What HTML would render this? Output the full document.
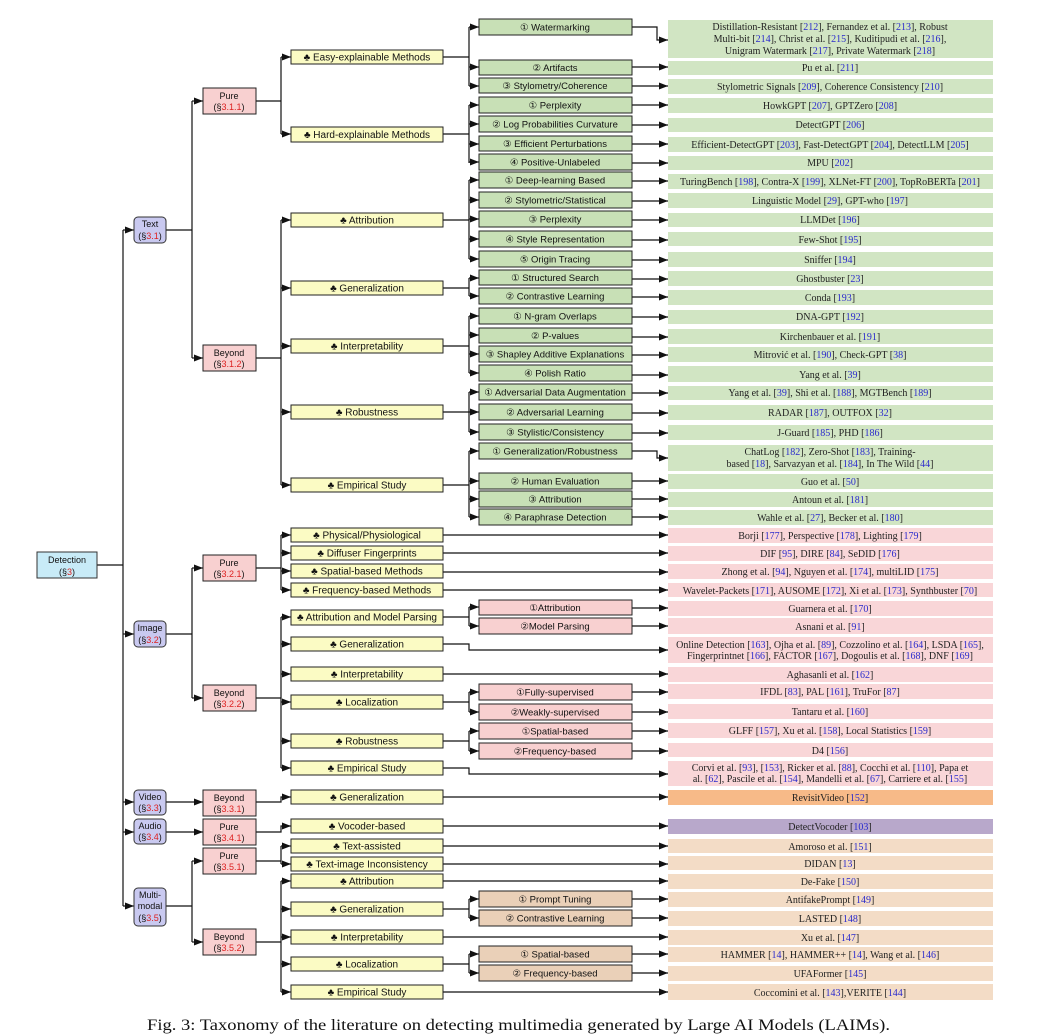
<!DOCTYPE html>
<html><head><meta charset="utf-8"><style>
html,body{margin:0;padding:0;background:#fff;width:1043px;height:1036px;overflow:hidden}
svg{display:block}
.s{font-family:"Liberation Sans",sans-serif;font-size:9px;fill:#111;text-anchor:middle}
.s3{font-size:10px}
.s4{font-size:9.5px}
.r{font-family:"Liberation Serif",serif;font-size:10px;fill:#222;text-anchor:middle}
.b{fill:#2a2acc}
.red{fill:#d22}
.ln{stroke:#111;stroke-width:1.2;fill:none}
.yb{fill:#fbfbc4;stroke:#222;stroke-width:1}
.gb{fill:#c8e0b6;stroke:#222;stroke-width:1}
.pb{fill:#f8d0d0;stroke:#222;stroke-width:1}
.tb{fill:#ead0b8;stroke:#222;stroke-width:1}
.lv{fill:#c9c9f0;stroke:#333;stroke-width:1}
.gr{fill:#d1e5c3}
.pr{fill:#f9d6d8}
.tr{fill:#f3dcc6}
</style></head><body>
<svg width="1043" height="1036" viewBox="0 0 1043 1036" xmlns="http://www.w3.org/2000/svg">
<defs><marker id="a" markerWidth="9" markerHeight="7" refX="9" refY="3.5" orient="auto" markerUnits="userSpaceOnUse"><path d="M0,0 L9,3.5 L0,7z" fill="#111"/></marker></defs>

<g>
<rect class="gr" x="668" y="20" width="325" height="38"/>
<rect class="gr" x="668" y="61" width="325" height="14"/>
<rect class="gr" x="668" y="79" width="325" height="15"/>
<rect class="gr" x="668" y="98" width="325" height="15"/>
<rect class="gr" x="668" y="118" width="325" height="14"/>
<rect class="gr" x="668" y="137" width="325" height="15"/>
<rect class="gr" x="668" y="156" width="325" height="14"/>
<rect class="gr" x="668" y="174" width="325" height="15"/>
<rect class="gr" x="668" y="193" width="325" height="15"/>
<rect class="gr" x="668" y="213" width="325" height="14"/>
<rect class="gr" x="668" y="232" width="325" height="14"/>
<rect class="gr" x="668" y="252" width="325" height="15"/>
<rect class="gr" x="668" y="271" width="325" height="15"/>
<rect class="gr" x="668" y="290" width="325" height="15"/>
<rect class="gr" x="668" y="310" width="325" height="14"/>
<rect class="gr" x="668" y="329" width="325" height="15"/>
<rect class="gr" x="668" y="347" width="325" height="15"/>
<rect class="gr" x="668" y="366" width="325" height="16"/>
<rect class="gr" x="668" y="386" width="325" height="14"/>
<rect class="gr" x="668" y="405" width="325" height="15"/>
<rect class="gr" x="668" y="425" width="325" height="15"/>
<rect class="gr" x="668" y="445" width="325" height="26"/>
<rect class="gr" x="668" y="474" width="325" height="15"/>
<rect class="gr" x="668" y="492" width="325" height="15"/>
<rect class="gr" x="668" y="510" width="325" height="15"/>

<rect class="pr" x="668" y="528" width="325" height="15"/>
<rect class="pr" x="668" y="546" width="325" height="15"/>
<rect class="pr" x="668" y="564" width="325" height="15"/>
<rect class="pr" x="668" y="583" width="325" height="14"/>
<rect class="pr" x="668" y="601" width="325" height="15"/>
<rect class="pr" x="668" y="618" width="325" height="16"/>
<rect class="pr" x="668" y="637" width="325" height="26"/>
<rect class="pr" x="668" y="667" width="325" height="15"/>
<rect class="pr" x="668" y="684" width="325" height="15"/>
<rect class="pr" x="668" y="704" width="325" height="15"/>
<rect class="pr" x="668" y="723" width="325" height="15"/>
<rect class="pr" x="668" y="743" width="325" height="14"/>
<rect class="pr" x="668" y="761" width="325" height="25"/>
<rect fill="#f7ba88" x="668" y="790" width="325" height="15"/>
<rect fill="#b8a8cb" x="668" y="819" width="325" height="15"/>
<rect class="tr" x="668" y="839" width="325" height="14"/>
<rect class="tr" x="668" y="856" width="325" height="14"/>
<rect class="tr" x="668" y="874" width="325" height="15"/>
<rect class="tr" x="668" y="892" width="325" height="15"/>
<rect class="tr" x="668" y="911" width="325" height="15"/>
<rect class="tr" x="668" y="930" width="325" height="15"/>
<rect class="tr" x="668" y="947" width="325" height="15"/>
<rect class="tr" x="668" y="966" width="325" height="15"/>
<rect class="tr" x="668" y="984" width="325" height="16"/>
</g>

<g class="r">
<text x="830" y="30">Distillation-Resistant [<tspan class="b">212</tspan>], Fernandez et al. [<tspan class="b">213</tspan>], Robust</text>
<text x="830" y="42">Multi-bit [<tspan class="b">214</tspan>], Christ et al. [<tspan class="b">215</tspan>], Kuditipudi et al. [<tspan class="b">216</tspan>],</text>
<text x="830" y="54">Unigram Watermark [<tspan class="b">217</tspan>], Private Watermark [<tspan class="b">218</tspan>]</text>
<text x="830" y="71">Pu et al. [<tspan class="b">211</tspan>]</text>
<text x="830" y="90">Stylometric Signals [<tspan class="b">209</tspan>], Coherence Consistency [<tspan class="b">210</tspan>]</text>
<text x="830" y="109">HowkGPT [<tspan class="b">207</tspan>], GPTZero [<tspan class="b">208</tspan>]</text>
<text x="830" y="128">DetectGPT [<tspan class="b">206</tspan>]</text>
<text x="830" y="148">Efficient-DetectGPT [<tspan class="b">203</tspan>], Fast-DetectGPT [<tspan class="b">204</tspan>], DetectLLM [<tspan class="b">205</tspan>]</text>
<text x="830" y="166">MPU [<tspan class="b">202</tspan>]</text>
<text x="830" y="185">TuringBench [<tspan class="b">198</tspan>], Contra-X [<tspan class="b">199</tspan>], XLNet-FT [<tspan class="b">200</tspan>], TopRoBERTa [<tspan class="b">201</tspan>]</text>
<text x="830" y="204">Linguistic Model [<tspan class="b">29</tspan>], GPT-who [<tspan class="b">197</tspan>]</text>
<text x="830" y="223">LLMDet [<tspan class="b">196</tspan>]</text>
<text x="830" y="243">Few-Shot [<tspan class="b">195</tspan>]</text>
<text x="830" y="263">Sniffer [<tspan class="b">194</tspan>]</text>
<text x="830" y="282">Ghostbuster [<tspan class="b">23</tspan>]</text>
<text x="830" y="301">Conda [<tspan class="b">193</tspan>]</text>
<text x="830" y="320">DNA-GPT [<tspan class="b">192</tspan>]</text>
<text x="830" y="340">Kirchenbauer et al. [<tspan class="b">191</tspan>]</text>
<text x="830" y="358">Mitrović et al. [<tspan class="b">190</tspan>], Check-GPT [<tspan class="b">38</tspan>]</text>
<text x="830" y="378">Yang et al. [<tspan class="b">39</tspan>]</text>
<text x="830" y="396">Yang et al. [<tspan class="b">39</tspan>], Shi et al. [<tspan class="b">188</tspan>], MGTBench [<tspan class="b">189</tspan>]</text>
<text x="830" y="416">RADAR [<tspan class="b">187</tspan>], OUTFOX [<tspan class="b">32</tspan>]</text>
<text x="830" y="436">J-Guard [<tspan class="b">185</tspan>], PHD [<tspan class="b">186</tspan>]</text>
<text x="830" y="455">ChatLog [<tspan class="b">182</tspan>], Zero-Shot [<tspan class="b">183</tspan>], Training-</text>
<text x="830" y="467">based [<tspan class="b">18</tspan>], Sarvazyan et al. [<tspan class="b">184</tspan>], In The Wild [<tspan class="b">44</tspan>]</text>
<text x="830" y="485">Guo et al. [<tspan class="b">50</tspan>]</text>
<text x="830" y="503">Antoun et al. [<tspan class="b">181</tspan>]</text>
<text x="830" y="521">Wahle et al. [<tspan class="b">27</tspan>], Becker et al. [<tspan class="b">180</tspan>]</text>

<text x="830" y="539">Borji [<tspan class="b">177</tspan>], Perspective [<tspan class="b">178</tspan>], Lighting [<tspan class="b">179</tspan>]</text>
<text x="830" y="557">DIF [<tspan class="b">95</tspan>], DIRE [<tspan class="b">84</tspan>], SeDID [<tspan class="b">176</tspan>]</text>
<text x="830" y="575">Zhong et al. [<tspan class="b">94</tspan>], Nguyen et al. [<tspan class="b">174</tspan>], multiLID [<tspan class="b">175</tspan>]</text>
<text x="830" y="594">Wavelet-Packets [<tspan class="b">171</tspan>], AUSOME [<tspan class="b">172</tspan>], Xi et al. [<tspan class="b">173</tspan>], Synthbuster [<tspan class="b">70</tspan>]</text>
<text x="830" y="612">Guarnera et al. [<tspan class="b">170</tspan>]</text>
<text x="830" y="630">Asnani et al. [<tspan class="b">91</tspan>]</text>
<text x="830" y="648">Online Detection [<tspan class="b">163</tspan>], Ojha et al. [<tspan class="b">89</tspan>], Cozzolino et al. [<tspan class="b">164</tspan>], LSDA [<tspan class="b">165</tspan>],</text>
<text x="830" y="659">Fingerprintnet [<tspan class="b">166</tspan>], FACTOR [<tspan class="b">167</tspan>], Dogoulis et al. [<tspan class="b">168</tspan>], DNF [<tspan class="b">169</tspan>]</text>
<text x="830" y="678">Aghasanli et al. [<tspan class="b">162</tspan>]</text>
<text x="830" y="695">IFDL [<tspan class="b">83</tspan>], PAL [<tspan class="b">161</tspan>], TruFor [<tspan class="b">87</tspan>]</text>
<text x="830" y="715">Tantaru et al. [<tspan class="b">160</tspan>]</text>
<text x="830" y="734">GLFF [<tspan class="b">157</tspan>], Xu et al. [<tspan class="b">158</tspan>], Local Statistics [<tspan class="b">159</tspan>]</text>
<text x="830" y="754">D4 [<tspan class="b">156</tspan>]</text>
<text x="830" y="771">Corvi et al. [<tspan class="b">93</tspan>], [<tspan class="b">153</tspan>], Ricker et al. [<tspan class="b">88</tspan>], Cocchi et al. [<tspan class="b">110</tspan>], Papa et</text>
<text x="830" y="782">al. [<tspan class="b">62</tspan>], Pascile et al. [<tspan class="b">154</tspan>], Mandelli et al. [<tspan class="b">67</tspan>], Carriere et al. [<tspan class="b">155</tspan>]</text>
<text x="830" y="801">RevisitVideo [<tspan class="b">152</tspan>]</text>
<text x="830" y="830">DetectVocoder [<tspan class="b">103</tspan>]</text>
<text x="830" y="850">Amoroso et al. [<tspan class="b">151</tspan>]</text>
<text x="830" y="867">DIDAN [<tspan class="b">13</tspan>]</text>
<text x="830" y="885">De-Fake [<tspan class="b">150</tspan>]</text>
<text x="830" y="903">AntifakePrompt [<tspan class="b">149</tspan>]</text>
<text x="830" y="922">LASTED [<tspan class="b">148</tspan>]</text>
<text x="830" y="941">Xu et al. [<tspan class="b">147</tspan>]</text>
<text x="830" y="958">HAMMER [<tspan class="b">14</tspan>], HAMMER++ [<tspan class="b">14</tspan>], Wang et al. [<tspan class="b">146</tspan>]</text>
<text x="830" y="977">UFAFormer [<tspan class="b">145</tspan>]</text>
<text x="830" y="996">Coccomini et al. [<tspan class="b">143</tspan>],VERITE [<tspan class="b">144</tspan>]</text>
</g>

<g class="ln">
<path d="M97,565 H123 M123,230 V906"/>
<path d="M123,230 H134" marker-end="url(#a)"/>
<path d="M123,634 H134" marker-end="url(#a)"/>
<path d="M123,802 H134" marker-end="url(#a)"/>
<path d="M123,832 H134" marker-end="url(#a)"/>
<path d="M123,906 H134" marker-end="url(#a)"/>
<path d="M166,230 H192 M192,101 V358" />
<path d="M192,101 H203" marker-end="url(#a)"/><path d="M192,358 H203" marker-end="url(#a)"/>
<path d="M166,634 H192 M192,568 V698"/>
<path d="M192,568 H203" marker-end="url(#a)"/><path d="M192,698 H203" marker-end="url(#a)"/>
<path d="M166,802 H203" marker-end="url(#a)"/>
<path d="M166,832 H203" marker-end="url(#a)"/>
<path d="M166,906 H192 M192,861 V942"/>
<path d="M192,861 H203" marker-end="url(#a)"/><path d="M192,942 H203" marker-end="url(#a)"/>
<path d="M256,101 H281 M281,57 V134"/>
<path d="M281,57 H291" marker-end="url(#a)"/><path d="M281,134 H291" marker-end="url(#a)"/>
<path d="M256,358 H281 M281,220 V485"/>
<path d="M281,220 H291" marker-end="url(#a)"/><path d="M281,288 H291" marker-end="url(#a)"/><path d="M281,346 H291" marker-end="url(#a)"/><path d="M281,412 H291" marker-end="url(#a)"/><path d="M281,485 H291" marker-end="url(#a)"/>
<path d="M256,568 H281 M281,535 V590"/>
<path d="M281,535 H291" marker-end="url(#a)"/><path d="M281,553 H291" marker-end="url(#a)"/><path d="M281,571 H291" marker-end="url(#a)"/><path d="M281,590 H291" marker-end="url(#a)"/>
<path d="M256,698 H281 M281,617 V768"/>
<path d="M281,617 H291" marker-end="url(#a)"/><path d="M281,644 H291" marker-end="url(#a)"/><path d="M281,674 H291" marker-end="url(#a)"/><path d="M281,702 H291" marker-end="url(#a)"/><path d="M281,741 H291" marker-end="url(#a)"/><path d="M281,768 H291" marker-end="url(#a)"/>
<path d="M256,802 H281 V797 H291" marker-end="url(#a)"/>
<path d="M256,832 H281 V826 H291" marker-end="url(#a)"/>
<path d="M256,861 H281 M281,846 V864"/>
<path d="M281,846 H291" marker-end="url(#a)"/><path d="M281,864 H291" marker-end="url(#a)"/>
<path d="M256,942 H281 M281,881 V992"/>
<path d="M281,881 H291" marker-end="url(#a)"/><path d="M281,909 H291" marker-end="url(#a)"/><path d="M281,937 H291" marker-end="url(#a)"/><path d="M281,964 H291" marker-end="url(#a)"/><path d="M281,992 H291" marker-end="url(#a)"/>
<path d="M443,57 H469 M469,27 V86"/>
<path d="M469,27 H479" marker-end="url(#a)"/><path d="M469,67 H479" marker-end="url(#a)"/><path d="M469,86 H479" marker-end="url(#a)"/>
<path d="M443,134 H469 M469,105 V163"/>
<path d="M469,105 H479" marker-end="url(#a)"/><path d="M469,124 H479" marker-end="url(#a)"/><path d="M469,144 H479" marker-end="url(#a)"/><path d="M469,162 H479" marker-end="url(#a)"/>
<path d="M443,220 H469 M469,180 V259"/>
<path d="M469,180 H479" marker-end="url(#a)"/><path d="M469,200 H479" marker-end="url(#a)"/><path d="M469,219 H479" marker-end="url(#a)"/><path d="M469,239 H479" marker-end="url(#a)"/><path d="M469,259 H479" marker-end="url(#a)"/>
<path d="M443,288 H469 M469,278 V296"/>
<path d="M469,278 H479" marker-end="url(#a)"/><path d="M469,296 H479" marker-end="url(#a)"/>
<path d="M443,346 H469 M469,316 V373"/>
<path d="M469,316 H479" marker-end="url(#a)"/><path d="M469,335 H479" marker-end="url(#a)"/><path d="M469,354 H479" marker-end="url(#a)"/><path d="M469,373 H479" marker-end="url(#a)"/>
<path d="M443,412 H469 M469,392 V432"/>
<path d="M469,392 H479" marker-end="url(#a)"/><path d="M469,412 H479" marker-end="url(#a)"/><path d="M469,432 H479" marker-end="url(#a)"/>
<path d="M443,485 H469 M469,451 V517"/>
<path d="M469,451 H479" marker-end="url(#a)"/><path d="M469,481 H479" marker-end="url(#a)"/><path d="M469,499 H479" marker-end="url(#a)"/><path d="M469,517 H479" marker-end="url(#a)"/>
<path d="M443,617 H469 M469,607 V626"/>
<path d="M469,607 H479" marker-end="url(#a)"/><path d="M469,626 H479" marker-end="url(#a)"/>
<path d="M443,702 H469 M469,692 V712"/>
<path d="M469,692 H479" marker-end="url(#a)"/><path d="M469,712 H479" marker-end="url(#a)"/>
<path d="M443,741 H469 M469,731 V751"/>
<path d="M469,731 H479" marker-end="url(#a)"/><path d="M469,751 H479" marker-end="url(#a)"/>
<path d="M443,909 H469 M469,899 V918"/>
<path d="M469,899 H479" marker-end="url(#a)"/><path d="M469,918 H479" marker-end="url(#a)"/>
<path d="M443,964 H469 M469,954 V973"/>
<path d="M469,954 H479" marker-end="url(#a)"/><path d="M469,973 H479" marker-end="url(#a)"/>
<path d="M632,27 H657 V40 H668" marker-end="url(#a)"/>
<path d="M632,67 H668" marker-end="url(#a)"/><path d="M632,86 H668" marker-end="url(#a)"/>
<path d="M632,105 H668" marker-end="url(#a)"/><path d="M632,125 H668" marker-end="url(#a)"/><path d="M632,144 H668" marker-end="url(#a)"/><path d="M632,163 H668" marker-end="url(#a)"/>
<path d="M632,181 H668" marker-end="url(#a)"/><path d="M632,201 H668" marker-end="url(#a)"/><path d="M632,220 H668" marker-end="url(#a)"/><path d="M632,240 H668" marker-end="url(#a)"/><path d="M632,260 H668" marker-end="url(#a)"/>
<path d="M632,279 H668" marker-end="url(#a)"/><path d="M632,297 H668" marker-end="url(#a)"/>
<path d="M632,317 H668" marker-end="url(#a)"/><path d="M632,337 H668" marker-end="url(#a)"/><path d="M632,355 H668" marker-end="url(#a)"/><path d="M632,375 H668" marker-end="url(#a)"/>
<path d="M632,393 H668" marker-end="url(#a)"/><path d="M632,413 H668" marker-end="url(#a)"/><path d="M632,433 H668" marker-end="url(#a)"/>
<path d="M632,451 H657 V458 H668" marker-end="url(#a)"/>
<path d="M632,481 H668" marker-end="url(#a)"/><path d="M632,499 H668" marker-end="url(#a)"/><path d="M632,517 H668" marker-end="url(#a)"/>
<path d="M443,535 H668" marker-end="url(#a)"/><path d="M443,553 H668" marker-end="url(#a)"/><path d="M443,572 H668" marker-end="url(#a)"/><path d="M443,590 H668" marker-end="url(#a)"/>
<path d="M632,608 H668" marker-end="url(#a)"/><path d="M632,626 H668" marker-end="url(#a)"/>
<path d="M443,644 H469 V650 H668" marker-end="url(#a)"/>
<path d="M443,674 H668" marker-end="url(#a)"/>
<path d="M632,692 H668" marker-end="url(#a)"/><path d="M632,712 H668" marker-end="url(#a)"/>
<path d="M632,731 H668" marker-end="url(#a)"/><path d="M632,751 H668" marker-end="url(#a)"/>
<path d="M443,768 H469 V774 H668" marker-end="url(#a)"/>
<path d="M443,797 H668" marker-end="url(#a)"/>
<path d="M443,826 H668" marker-end="url(#a)"/>
<path d="M443,846 H668" marker-end="url(#a)"/><path d="M443,864 H668" marker-end="url(#a)"/><path d="M443,881 H668" marker-end="url(#a)"/>
<path d="M632,899 H668" marker-end="url(#a)"/><path d="M632,918 H668" marker-end="url(#a)"/>
<path d="M443,937 H668" marker-end="url(#a)"/>
<path d="M632,954 H668" marker-end="url(#a)"/><path d="M632,973 H668" marker-end="url(#a)"/>
<path d="M443,992 H668" marker-end="url(#a)"/>
</g>

<rect x="37" y="552" width="60" height="26" fill="#c8ebf7" stroke="#333"/>
<text class="s" x="67" y="563">Detection</text><text class="s" x="67" y="575">(§<tspan class="red">3</tspan>)</text>
<rect class="lv" x="134" y="217" width="32" height="26" rx="4"/>
<text class="s" x="150" y="227">Text</text><text class="s" x="150" y="239">(§<tspan class="red">3.1</tspan>)</text>
<rect class="lv" x="134" y="621" width="32" height="26" rx="4"/>
<text class="s" x="150" y="631">Image</text><text class="s" x="150" y="643">(§<tspan class="red">3.2</tspan>)</text>
<rect class="lv" x="134" y="790" width="32" height="25" rx="4"/>
<text class="s" x="150" y="800">Video</text><text class="s" x="150" y="811">(§<tspan class="red">3.3</tspan>)</text>
<rect class="lv" x="134" y="819" width="32" height="25" rx="4"/>
<text class="s" x="150" y="829">Audio</text><text class="s" x="150" y="840">(§<tspan class="red">3.4</tspan>)</text>
<rect class="lv" x="134" y="888" width="32" height="38" rx="4"/>
<text class="s" x="150" y="898">Multi-</text><text class="s" x="150" y="909">modal</text><text class="s" x="150" y="921">(§<tspan class="red">3.5</tspan>)</text>

<g class="s">
<rect class="pb" x="203" y="88" width="53" height="26"/><text x="229" y="99">Pure</text><text x="229" y="110">(§<tspan class="red">3.1.1</tspan>)</text>
<rect class="pb" x="203" y="345" width="53" height="26"/><text x="229" y="356">Beyond</text><text x="229" y="367">(§<tspan class="red">3.1.2</tspan>)</text>
<rect class="pb" x="203" y="555" width="53" height="26"/><text x="229" y="566">Pure</text><text x="229" y="577">(§<tspan class="red">3.2.1</tspan>)</text>
<rect class="pb" x="203" y="685" width="53" height="26"/><text x="229" y="696">Beyond</text><text x="229" y="707">(§<tspan class="red">3.2.2</tspan>)</text>
<rect class="pb" x="203" y="790" width="53" height="26"/><text x="229" y="801">Beyond</text><text x="229" y="812">(§<tspan class="red">3.3.1</tspan>)</text>
<rect class="pb" x="203" y="819" width="53" height="26"/><text x="229" y="830">Pure</text><text x="229" y="841">(§<tspan class="red">3.4.1</tspan>)</text>
<rect class="pb" x="203" y="848" width="53" height="26"/><text x="229" y="859">Pure</text><text x="229" y="870">(§<tspan class="red">3.5.1</tspan>)</text>
<rect class="pb" x="203" y="929" width="53" height="26"/><text x="229" y="940">Beyond</text><text x="229" y="951">(§<tspan class="red">3.5.2</tspan>)</text>
</g>

<g class="s s3">
<rect class="yb" x="291" y="50" width="152" height="14"/><text x="367" y="60.5">♣ Easy-explainable Methods</text>
<rect class="yb" x="291" y="127" width="152" height="15"/><text x="367" y="138">♣ Hard-explainable Methods</text>
<rect class="yb" x="291" y="213" width="152" height="14"/><text x="367" y="223.5">♣ Attribution</text>
<rect class="yb" x="291" y="281" width="152" height="14"/><text x="367" y="291.5">♣ Generalization</text>
<rect class="yb" x="291" y="339" width="152" height="14"/><text x="367" y="349.5">♣ Interpretability</text>
<rect class="yb" x="291" y="405" width="152" height="14"/><text x="367" y="415.5">♣ Robustness</text>
<rect class="yb" x="291" y="478" width="152" height="14"/><text x="367" y="488.5">♣ Empirical Study</text>
<rect class="yb" x="291" y="528" width="152" height="14"/><text x="367" y="538.5">♣ Physical/Physiological</text>
<rect class="yb" x="291" y="546" width="152" height="14"/><text x="367" y="556.5">♣ Diffuser Fingerprints</text>
<rect class="yb" x="291" y="564" width="152" height="14"/><text x="367" y="574.5">♣ Spatial-based Methods</text>
<rect class="yb" x="291" y="583" width="152" height="14"/><text x="367" y="593.5">♣ Frequency-based Methods</text>
<rect class="yb" x="291" y="610" width="152" height="15"/><text x="367" y="620.5">♣ Attribution and Model Parsing</text>
<rect class="yb" x="291" y="637" width="152" height="14"/><text x="367" y="647.5">♣ Generalization</text>
<rect class="yb" x="291" y="667" width="152" height="14"/><text x="367" y="677.5">♣ Interpretability</text>
<rect class="yb" x="291" y="695" width="152" height="14"/><text x="367" y="705.5">♣ Localization</text>
<rect class="yb" x="291" y="734" width="152" height="14"/><text x="367" y="744.5">♣ Robustness</text>
<rect class="yb" x="291" y="761" width="152" height="14"/><text x="367" y="771.5">♣ Empirical Study</text>
<rect class="yb" x="291" y="790" width="152" height="14"/><text x="367" y="800.5">♣ Generalization</text>
<rect class="yb" x="291" y="819" width="152" height="14"/><text x="367" y="829.5">♣ Vocoder-based</text>
<rect class="yb" x="291" y="839" width="152" height="14"/><text x="367" y="849.5">♣ Text-assisted</text>
<rect class="yb" x="291" y="857" width="152" height="14"/><text x="367" y="867.5">♣ Text-image Inconsistency</text>
<rect class="yb" x="291" y="874" width="152" height="14"/><text x="367" y="884.5">♣ Attribution</text>
<rect class="yb" x="291" y="902" width="152" height="14"/><text x="367" y="912.5">♣ Generalization</text>
<rect class="yb" x="291" y="930" width="152" height="14"/><text x="367" y="940.5">♣ Interpretability</text>
<rect class="yb" x="291" y="957" width="152" height="14"/><text x="367" y="967.5">♣ Localization</text>
<rect class="yb" x="291" y="985" width="152" height="14"/><text x="367" y="995.5">♣ Empirical Study</text>
</g>

<g class="s s4">
<rect class="gb" x="479" y="19" width="153" height="16"/><text x="555" y="30.5">① Watermarking</text>
<rect class="gb" x="479" y="60" width="153" height="15"/><text x="555" y="71">② Artifacts</text>
<rect class="gb" x="479" y="78" width="153" height="15"/><text x="555" y="89">③ Stylometry/Coherence</text>
<rect class="gb" x="479" y="97" width="153" height="16"/><text x="555" y="108.5">① Perplexity</text>
<rect class="gb" x="479" y="116" width="153" height="16"/><text x="555" y="127.5">② Log Probabilities Curvature</text>
<rect class="gb" x="479" y="136" width="153" height="15"/><text x="555" y="147">③ Efficient Perturbations</text>
<rect class="gb" x="479" y="154" width="153" height="16"/><text x="555" y="165.5">④ Positive-Unlabeled</text>
<rect class="gb" x="479" y="172" width="153" height="16"/><text x="555" y="183.5">① Deep-learning Based</text>
<rect class="gb" x="479" y="192" width="153" height="16"/><text x="555" y="203.5">② Stylometric/Statistical</text>
<rect class="gb" x="479" y="211" width="153" height="16"/><text x="555" y="222.5">③ Perplexity</text>
<rect class="gb" x="479" y="231" width="153" height="16"/><text x="555" y="242.5">④ Style Representation</text>
<rect class="gb" x="479" y="251" width="153" height="16"/><text x="555" y="262.5">⑤ Origin Tracing</text>
<rect class="gb" x="479" y="270" width="153" height="15"/><text x="555" y="281">① Structured Search</text>
<rect class="gb" x="479" y="288" width="153" height="16"/><text x="555" y="299.5">② Contrastive Learning</text>
<rect class="gb" x="479" y="308" width="153" height="16"/><text x="555" y="319.5">① N-gram Overlaps</text>
<rect class="gb" x="479" y="328" width="153" height="15"/><text x="555" y="339">② P-values</text>
<rect class="gb" x="479" y="346" width="153" height="16"/><text x="555" y="357.5">③ Shapley Additive Explanations</text>
<rect class="gb" x="479" y="365" width="153" height="16"/><text x="555" y="376.5">④ Polish Ratio</text>
<rect class="gb" x="479" y="384" width="153" height="16"/><text x="555" y="395.5">① Adversarial Data Augmentation</text>
<rect class="gb" x="479" y="404" width="153" height="16"/><text x="555" y="415.5">② Adversarial Learning</text>
<rect class="gb" x="479" y="424" width="153" height="16"/><text x="555" y="435.5">③ Stylistic/Consistency</text>
<rect class="gb" x="479" y="443" width="153" height="16"/><text x="555" y="454.5">① Generalization/Robustness</text>
<rect class="gb" x="479" y="473" width="153" height="16"/><text x="555" y="484.5">② Human Evaluation</text>
<rect class="gb" x="479" y="491" width="153" height="16"/><text x="555" y="502.5">③ Attribution</text>
<rect class="gb" x="479" y="509" width="153" height="16"/><text x="555" y="520.5">④ Paraphrase Detection</text>
<rect class="pb" x="479" y="600" width="153" height="15"/><text x="555" y="611">①Attribution</text>
<rect class="pb" x="479" y="618" width="153" height="16"/><text x="555" y="629.5">②Model Parsing</text>
<rect class="pb" x="479" y="684" width="153" height="16"/><text x="555" y="695.5">①Fully-supervised</text>
<rect class="pb" x="479" y="704" width="153" height="16"/><text x="555" y="715.5">②Weakly-supervised</text>
<rect class="pb" x="479" y="723" width="153" height="16"/><text x="555" y="734.5">①Spatial-based</text>
<rect class="pb" x="479" y="743" width="153" height="16"/><text x="555" y="754.5">②Frequency-based</text>
<rect class="tb" x="479" y="891" width="153" height="16"/><text x="555" y="902.5">① Prompt Tuning</text>
<rect class="tb" x="479" y="910" width="153" height="16"/><text x="555" y="921.5">② Contrastive Learning</text>
<rect class="tb" x="479" y="946" width="153" height="16"/><text x="555" y="957.5">① Spatial-based</text>
<rect class="tb" x="479" y="965" width="153" height="16"/><text x="555" y="976.5">② Frequency-based</text>
</g>

<text x="147" y="1030" style="font-family:'Liberation Serif',serif;font-size:16px;fill:#111" textLength="743" lengthAdjust="spacingAndGlyphs">Fig. 3: Taxonomy of the literature on detecting multimedia generated by Large AI Models (LAIMs).</text>
</svg>
</body></html>
